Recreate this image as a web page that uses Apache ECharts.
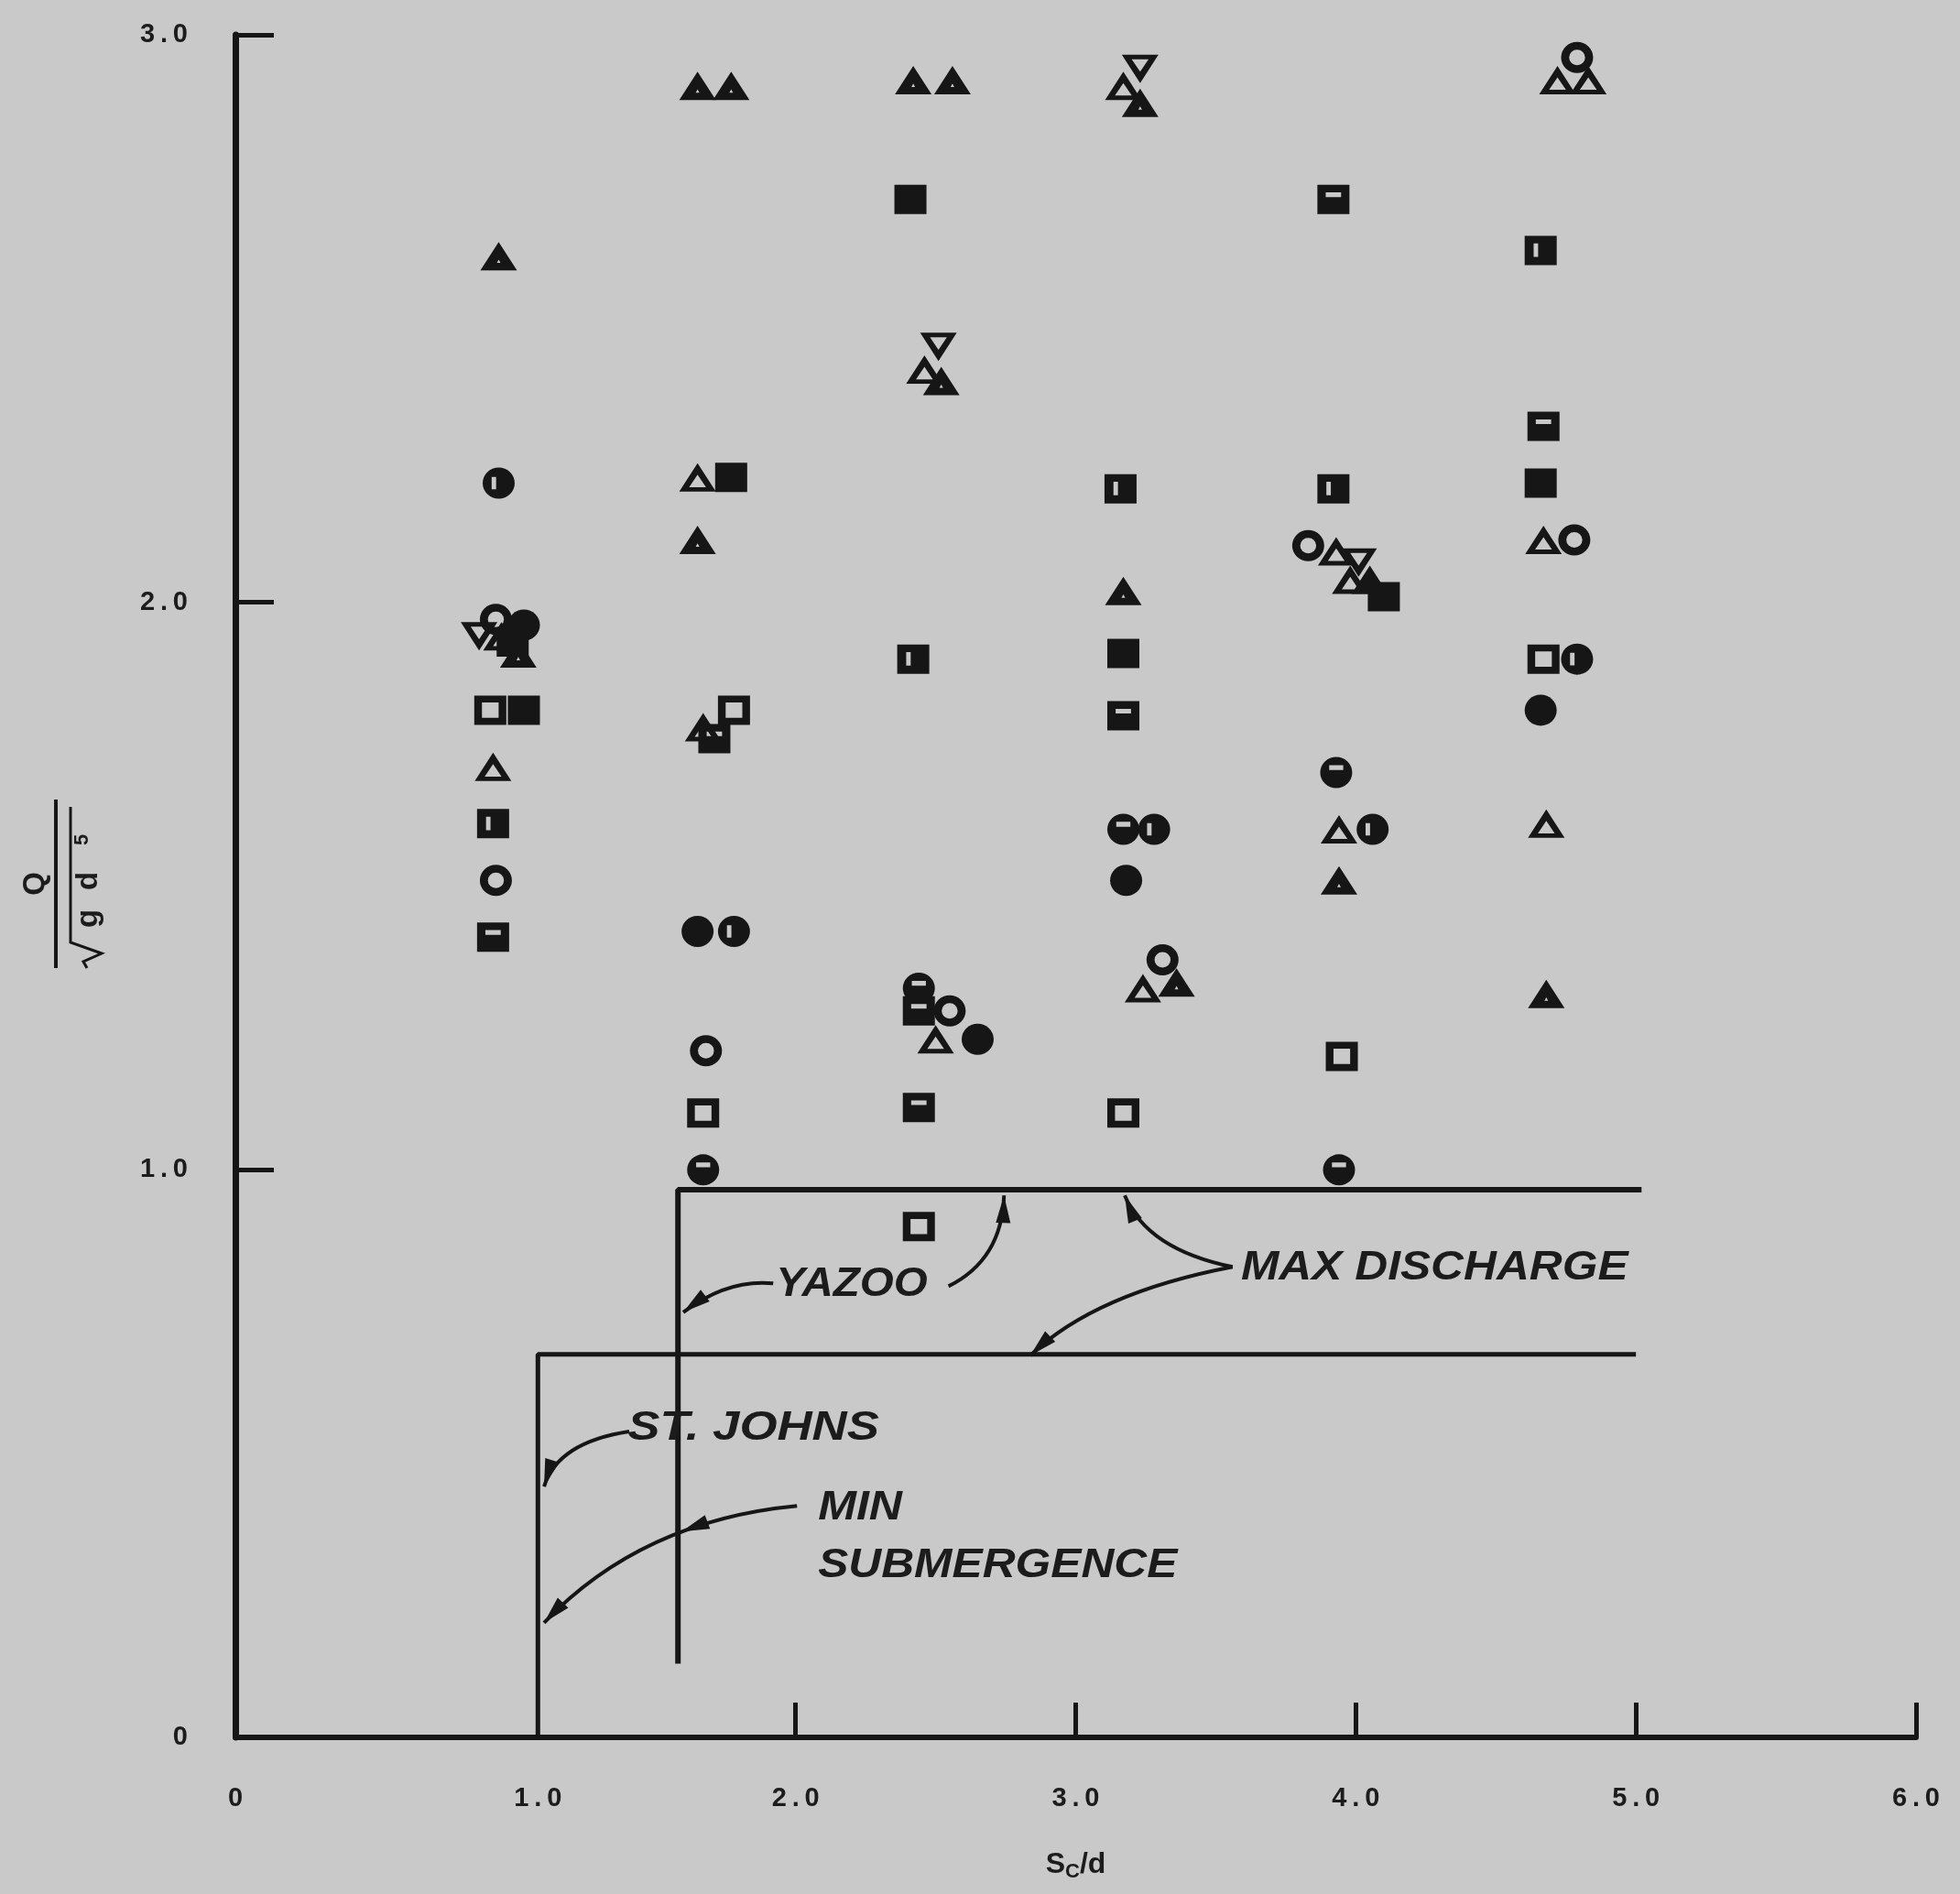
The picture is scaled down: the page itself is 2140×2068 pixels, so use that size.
<!DOCTYPE html>
<html>
<head>
    <meta charset="utf-8">
    <title>Q / sqrt(g d^5) vs Sc/d</title>
    <script type="text/javascript" src="https://cdn.jsdelivr.net/npm/echarts@6/dist/echarts.min.js"></script>
    <style>
        body { margin: 0; background: #c9c9c9; }
    </style>
</head>
<body>
<div id="chartmain" style="width:2140px; height:2068px;"></div>

<script type="text/javascript">
    // values: [Sc/d, Q/sqrt(g d^5)]
    var openCircle = [[0.93,1.97],[0.93,1.51],[1.68,1.21],[2.55,1.28],[3.31,1.37],[3.83,2.10],[4.79,2.96],[4.78,2.11]];
    var solidCircle = [[1.03,1.96],[1.65,1.42],[2.65,1.23],[3.18,1.51],[4.66,1.81]];
    var circleVSlit = [[0.94,2.21],[1.78,1.42],[3.28,1.60],[4.06,1.60],[4.79,1.90]];
    var circleHSlit = [[1.67,1.00],[2.44,1.32],[3.17,1.60],[3.93,1.70],[3.94,1.00]];
    var openSquare = [[0.91,1.81],[1.78,1.81],[1.67,1.10],[2.44,0.90],[3.17,1.10],[3.95,1.20],[4.67,1.90]];
    var solidSquare = [[1.03,1.81],[0.99,1.93],[1.77,2.22],[2.41,2.71],[3.17,1.91],[4.10,2.01],[4.66,2.21]];
    var squareVSlit = [[0.92,1.61],[2.42,1.90],[3.16,2.20],[3.92,2.20],[4.66,2.62]];
    var squareHSlit = [[0.92,1.41],[1.71,1.76],[2.44,1.28],[2.44,1.11],[3.17,1.80],[3.92,2.71],[4.67,2.31]];
    var openTriangle = [[0.92,1.71],[0.95,1.94],[1.65,2.22],[1.67,1.78],[2.46,2.41],[2.50,1.23],[3.17,2.91],[3.24,1.32],
        [3.93,2.09],[3.98,2.04],[3.94,1.60],[4.72,2.92],[4.83,2.92],[4.67,2.11],[4.68,1.61]];
    var solidTriangle = [[0.94,2.61],[1.01,1.91],[1.65,2.91],[1.77,2.91],[1.65,2.11],[2.42,2.92],[2.56,2.92],[2.52,2.39],
        [3.23,2.88],[3.17,2.02],[3.36,1.33],[4.05,2.04],[3.94,1.51],[4.68,1.31]];
    var openTriangleDown = [[0.87,1.94],[2.51,2.45],[3.23,2.94],[4.01,2.07]];

    // boundary lines
    var yazooX = [1.58, 1.58, 5.02];
    var yazooY = [0.13, 0.965, 0.965];
    var stJohnsX = [1.08, 1.08, 5.0];
    var stJohnsY = [0, 0.675, 0.675];

    // x tick labels as drawn (the 1.0 mark sits on the St. Johns line)
    var xLabelAt = [0, 1.08, 2, 3, 4, 5, 6];
    var xTickAt = [2, 3, 4, 5, 6];

    var INK = '#161616';
    var TXT = '#1c1c1c';
    var FONT = 'Liberation Sans, Arial, sans-serif';

    // marker shapes, holes are drawn with reverse winding
    var CIRCLE = 'M50 0 A50 50 0 1 1 50 100 A50 50 0 1 1 50 0 Z';
    var SQUARE = 'M0 0 L100 0 L100 100 L0 100 Z';
    var TRI = 'M50 0 L100 100 L0 100 Z';
    var shapes = {
        oc: 'path://' + CIRCLE + ' M50 25 A25 25 0 1 0 50 75 A25 25 0 1 0 50 25 Z',
        fc: 'path://' + CIRCLE,
        cv: 'path://' + CIRCLE + ' M28 30 L28 70 L42 70 L42 30 Z',
        ch: 'path://' + CIRCLE + ' M28 26 L28 42 L72 42 L72 26 Z',
        os: 'path://' + SQUARE + ' M24 24 L24 76 L76 76 L76 24 Z',
        fs: 'path://' + SQUARE,
        sv: 'path://' + SQUARE + ' M28 26 L28 72 L42 72 L42 26 Z',
        sh: 'path://' + SQUARE + ' M26 26 L26 42 L74 42 L74 26 Z',
        ot: 'path://' + TRI + ' M50 40 L27 84 L73 84 Z',
        ft: 'path://' + TRI + ' M50 62 L45 74 L55 74 Z',
        od: 'path://M0 0 L100 0 L50 100 Z M27 16 L50 60 L73 16 Z'
    };

    function pts(name, data, shape, size) {
        return {
            name: name,
            type: 'scatter',
            data: data,
            symbol: shapes[shape],
            symbolSize: size,
            itemStyle: { color: INK, opacity: 1 },
            z: 5
        };
    }

    function xy(xs, ys) {
        var out = [];
        for (var i = 0; i < xs.length; i++) out.push([xs[i], ys[i]]);
        return out;
    }

    // spaced-out digits like the drafted labels
    function tickText(v) {
        var r = Math.round(v);
        var s = r === 0 ? '0' : r.toFixed(1);
        return s.split('').join('\u2009');
    }

    var option = {
        backgroundColor: '#c9c9c9',
        animation: false,
        grid: { left: 257, right: 48, top: 38, bottom: 171 },
        xAxis: {
            type: 'value', min: 0, max: 6, interval: 1,
            axisLine: { lineStyle: { color: INK, width: 6 } },
            axisTick: { inside: true, length: 38, customValues: xTickAt, lineStyle: { color: INK, width: 5 } },
            splitLine: { show: false },
            axisLabel: {
                margin: 52, color: TXT, fontSize: 29, fontWeight: 'bold', fontFamily: FONT,
                customValues: xLabelAt,
                formatter: tickText
            },
            name: '{s|S}{c|C}{s|/d}',
            nameLocation: 'middle',
            nameGap: 120,
            nameTextStyle: {
                rich: {
                    s: { fontSize: 32, fontWeight: 'bold', fontFamily: FONT, color: TXT, lineHeight: 38 },
                    c: { fontSize: 22, fontWeight: 'bold', fontFamily: FONT, color: TXT, lineHeight: 38, verticalAlign: 'bottom', padding: [16, 0, 0, 0] }
                }
            }
        },
        yAxis: {
            type: 'value', min: 0, max: 3, interval: 1,
            axisLine: { lineStyle: { color: INK, width: 7 } },
            axisTick: { inside: true, length: 42, lineStyle: { color: INK, width: 5 } },
            splitLine: { show: false },
            axisLabel: {
                margin: 52, color: TXT, fontSize: 29, fontWeight: 'bold', fontFamily: FONT,
                formatter: tickText
            }
        },
        series: [
            { type: 'line', data: xy(yazooX, yazooY), symbol: 'none', lineStyle: { color: INK, width: 6 }, z: 3 },
            { type: 'line', data: xy(stJohnsX, stJohnsY), symbol: 'none', lineStyle: { color: INK, width: 5 }, z: 3 },
            pts('open circle', openCircle, 'oc', [35, 34]),
            pts('solid circle', solidCircle, 'fc', [35, 34]),
            pts('circle v', circleVSlit, 'cv', [35, 34]),
            pts('circle h', circleHSlit, 'ch', [35, 34]),
            pts('open square', openSquare, 'os', [35, 32]),
            pts('solid square', solidSquare, 'fs', [35, 32]),
            pts('square v', squareVSlit, 'sv', [35, 32]),
            pts('square h', squareHSlit, 'sh', [35, 32]),
            pts('open triangle', openTriangle, 'ot', [40, 31]),
            pts('solid triangle', solidTriangle, 'ft', [40, 31]),
            pts('open triangle down', openTriangleDown, 'od', [40, 31])
        ]
    };

    var myChart = echarts.init(document.getElementById('chartmain'));
    myChart.setOption(option);

    // annotations, anchored in data units
    function px(p) { return myChart.convertToPixel({ gridIndex: 0 }, p); }

    var labels = [
        { text: 'YAZOO', at: [1.93, 0.797], sx: 1.08 },
        { text: 'MAX DISCHARGE', at: [3.59, 0.826], sx: 1.13 },
        { text: 'ST. JOHNS', at: [1.40, 0.544], sx: 1.2 },
        { text: 'MIN', at: [2.08, 0.403], sx: 1.14 },
        { text: 'SUBMERGENCE', at: [2.08, 0.302], sx: 1.13 }
    ];
    // quadratic leaders: start, control, end, arrow heads at t
    var leaders = [
        { p0: [1.920, 0.800], c: [1.756, 0.808], p2: [1.599, 0.749], heads: [1] },
        { p0: [2.546, 0.795], c: [2.737, 0.842], p2: [2.744, 0.955], heads: [1] },
        { p0: [3.560, 0.829], c: [3.254, 0.860], p2: [3.175, 0.955], heads: [1] },
        { p0: [3.560, 0.829], c: [3.071, 0.783], p2: [2.838, 0.673], heads: [1] },
        { p0: [1.406, 0.539], c: [1.151, 0.520], p2: [1.102, 0.442], heads: [1] },
        { p0: [2.005, 0.408], c: [1.449, 0.382], p2: [1.102, 0.202], heads: [0.4, 1] }
    ];

    function arrowHead(x, y, ang) {
        var L = 30, W = 8;
        var bx = x - L * Math.cos(ang), by = y - L * Math.sin(ang);
        var nx = -Math.sin(ang) * W, ny = Math.cos(ang) * W;
        return { type: 'polygon', z: 10, shape: { points: [[x, y], [bx + nx, by + ny], [bx - nx, by - ny]] }, style: { fill: INK } };
    }

    var graphics = [];
    labels.forEach(function (l) {
        var p = px(l.at);
        graphics.push({
            type: 'text', x: p[0], y: p[1], scaleX: l.sx, z: 10,
            style: { text: l.text, fill: TXT, font: 'italic bold 44px ' + FONT, verticalAlign: 'middle', align: 'left' }
        });
    });
    leaders.forEach(function (d) {
        var a = px(d.p0), c = px(d.c), b = px(d.p2);
        graphics.push({
            type: 'bezierCurve', z: 10,
            shape: { x1: a[0], y1: a[1], cpx1: c[0], cpy1: c[1], x2: b[0], y2: b[1] },
            style: { stroke: INK, lineWidth: 4, fill: null }
        });
        d.heads.forEach(function (t) {
            var x = (1 - t) * (1 - t) * a[0] + 2 * t * (1 - t) * c[0] + t * t * b[0];
            var y = (1 - t) * (1 - t) * a[1] + 2 * t * (1 - t) * c[1] + t * t * b[1];
            var dx = 2 * (1 - t) * (c[0] - a[0]) + 2 * t * (b[0] - c[0]);
            var dy = 2 * (1 - t) * (c[1] - a[1]) + 2 * t * (b[1] - c[1]);
            graphics.push(arrowHead(x, y, Math.atan2(dy, dx)));
        });
    });

    // y axis title: Q over sqrt(g d^5), turned to read upward
    var titleFont = 'bold 33px ' + FONT;
    graphics.push({
        type: 'group', x: 61, y: 965, rotation: Math.PI / 2,
        children: [
            { type: 'text', x: 0, y: -22, style: { text: 'Q', font: titleFont, fill: TXT, align: 'center', verticalAlign: 'middle' } },
            { type: 'line', shape: { x1: -92, y1: 0, x2: 92, y2: 0 }, style: { stroke: INK, lineWidth: 4 } },
            { type: 'polyline', shape: { points: [[-92, 34], [-85, 30], [-76, 50], [-64, 16], [84, 16]] },
              style: { stroke: INK, lineWidth: 3, fill: null } },
            { type: 'text', x: -38, y: 36, style: { text: 'g', font: titleFont, fill: TXT, align: 'center', verticalAlign: 'middle' } },
            { type: 'text', x: 3, y: 36, style: { text: 'd', font: titleFont, fill: TXT, align: 'center', verticalAlign: 'middle' } },
            { type: 'text', x: 48, y: 29, style: { text: '5', font: 'bold 22px ' + FONT, fill: TXT, align: 'center', verticalAlign: 'middle' } }
        ]
    });

    myChart.setOption({ graphic: graphics });
</script>
</body>
</html>
